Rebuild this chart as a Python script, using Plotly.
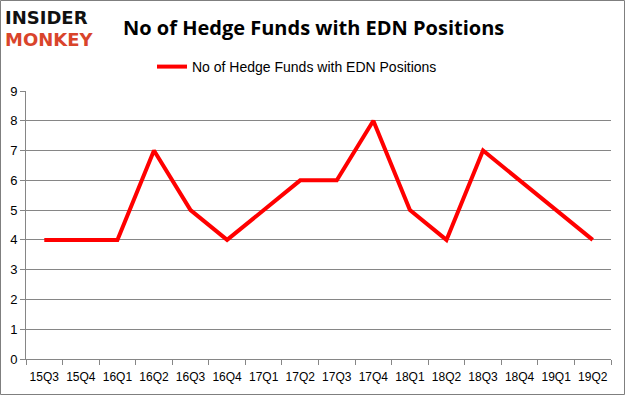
import plotly.graph_objects as go

quarters = ["15Q3", "15Q4", "16Q1", "16Q2", "16Q3", "16Q4", "17Q1", "17Q2",
            "17Q3", "17Q4", "18Q1", "18Q2", "18Q3", "18Q4", "19Q1", "19Q2"]
funds = [4, 4, 4, 7, 5, 4, 5, 6, 6, 8, 5, 4, 7, 6, 5, 4]
series_name = "No of Hedge Funds with EDN Positions"
title_text = "No of Hedge Funds with EDN Positions"

W, H = 625, 395
L, R, T, B = 26, 14, 91, 36
pw, ph = W - L - R, H - T - B

fig = go.Figure()
fig.add_trace(go.Scatter(
    x=quarters, y=funds, mode="lines", name=series_name,
    line=dict(color="#ff0000", width=4),
))

def px_x(p):
    return (p - L) / pw

def px_y(p):
    return (H - B - p) / ph

fig.update_layout(
    width=W, height=H,
    margin=dict(l=L, r=R, t=T, b=B, autoexpand=False),
    paper_bgcolor="white", plot_bgcolor="white",
    font=dict(family="Liberation Sans, Arial, sans-serif", color="#000000", size=12),
    showlegend=True,
    legend=dict(orientation="h", x=px_x(152), y=px_y(51), xanchor="left", yanchor="top",
                font=dict(size=14, family="Liberation Sans Narrow, Liberation Sans, Arial"),
                bgcolor="rgba(0,0,0,0)"),
    xaxis=dict(
        type="category", range=[-0.5, len(quarters) - 0.5],
        showline=True, linecolor="#868686", linewidth=1,
        ticks="outside", tickson="boundaries", ticklen=5, tickcolor="#868686",
        showgrid=False, tickangle=0, ticklabelstandoff=7,
        tickfont=dict(size=12, family="Liberation Sans Narrow, Liberation Sans"), fixedrange=True,
    ),
    yaxis=dict(
        range=[0, 9], dtick=1, showline=True, linecolor="#868686", linewidth=1,
        ticks="outside", ticklen=5, tickcolor="#868686",
        showgrid=True, gridcolor="#868686", gridwidth=1,
        zeroline=False, tickfont=dict(size=13, family="Liberation Sans Narrow, Liberation Sans"),
        fixedrange=True,
    ),
    shapes=[dict(type="rect", xref="paper", yref="paper",
                 x0=px_x(0.5), x1=px_x(W - 0.5), y0=px_y(H - 0.5), y1=px_y(0.5),
                 line=dict(color="#7f7f7f", width=1))],
    annotations=[
        dict(text="<b>No of Hedge Funds with EDN Positions</b>", xref="paper", yref="paper",
             x=px_x(313), y=px_y(27), xanchor="center", yanchor="middle", showarrow=False,
             font=dict(size=20, family="Liberation Sans Narrow, Open Sans, Arial", color="#000000")),
        dict(text="<b>INSIDER</b>", xref="paper", yref="paper",
             x=px_x(3), y=px_y(17), xanchor="left", yanchor="middle", showarrow=False,
             font=dict(size=18, family="Liberation Sans Narrow, DejaVu Sans", color="#111111")),
        dict(text="<b>MONKEY</b>", xref="paper", yref="paper",
             x=px_x(3), y=px_y(39), xanchor="left", yanchor="middle", showarrow=False,
             font=dict(size=18, family="Liberation Sans Narrow, DejaVu Sans", color="#d9442b")),
    ],
)

fig.write_html("out.html", config={"displayModeBar": False},
               post_script="document.body.style.margin='0';")
